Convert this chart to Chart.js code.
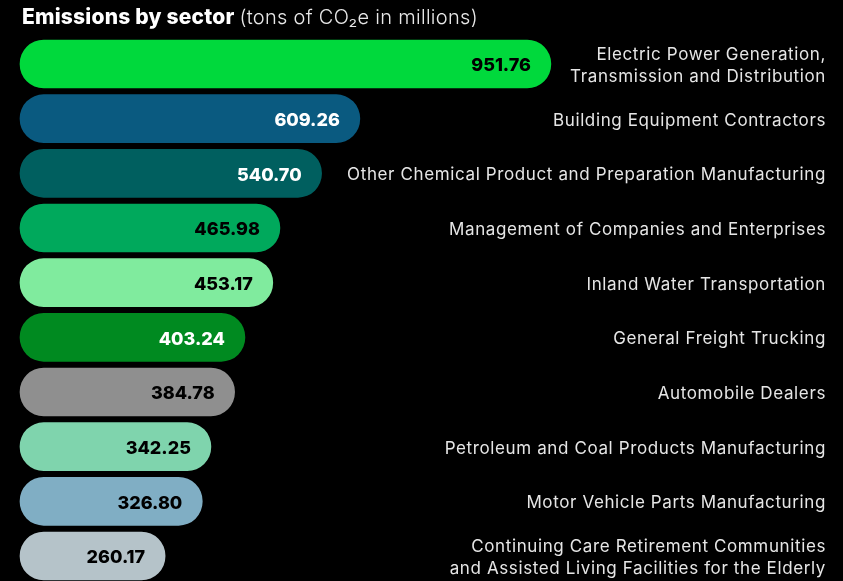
<!DOCTYPE html>
<html>
<head>
<meta charset="utf-8">
<script src="https://cdn.jsdelivr.net/npm/chart.js@4.4.1/dist/chart.umd.min.js"></script>
<style>
  html, body { margin: 0; padding: 0; background: #000; }
  #wrap { width: 843px; height: 581px; }
</style>
</head>
<body>
<div id="wrap"><canvas id="emissions"></canvas></div>
<script>
// sectors, top to bottom
const sectors = [
  ['Electric Power Generation,', 'Transmission and Distribution'],
  'Building Equipment Contractors',
  'Other Chemical Product and Preparation Manufacturing',
  'Management of Companies and Enterprises',
  'Inland Water Transportation',
  'General Freight Trucking',
  'Automobile Dealers',
  'Petroleum and Coal Products Manufacturing',
  'Motor Vehicle Parts Manufacturing',
  ['Continuing Care Retirement Communities', 'and Assisted Living Facilities for the Elderly']
];
// tons of CO2e, millions
const emissions = [951.76, 609.26, 540.70, 465.98, 453.17, 403.24, 384.78, 342.25, 326.80, 260.17];
const barColors = ['#00d93c', '#0a5a80', '#005f5f', '#00a95c', '#80eb9e', '#008a20', '#8f8f8f', '#7fd4ad', '#80aec4', '#b5c3c9'];
const valueColors = ['#000', '#fff', '#fff', '#000', '#000', '#fff', '#000', '#000', '#000', '#000'];

const FONT = 'Inter, "Noto Sans", sans-serif';

// heading, bar values and sector names are painted by hand
const annotate = {
  id: 'annotate',
  afterDatasetsDraw(chart) {
    const ctx = chart.ctx;
    const meta = chart.getDatasetMeta(0);
    const yScale = chart.scales.y;
    ctx.save();

    // heading
    ctx.textBaseline = 'middle';
    ctx.textAlign = 'left';
    ctx.fillStyle = '#ffffff';
    ctx.font = '800 21px ' + FONT;
    ctx.letterSpacing = '0.2px';
    ctx.fillText('Emissions by sector', 22, 18);
    const w = ctx.measureText('Emissions by sector').width;
    ctx.font = '300 20px ' + FONT;
    ctx.letterSpacing = '0.3px';
    ctx.fillStyle = '#e8e8e8';
    ctx.fillText('(tons of CO\u2082e in millions)', 22 + w + 5, 18);

    // values inside bars
    ctx.font = '800 18px ' + FONT;
    ctx.letterSpacing = '0px';
    ctx.textAlign = 'right';
    meta.data.forEach((bar, i) => {
      ctx.fillStyle = valueColors[i];
      ctx.fillText(emissions[i].toFixed(2), bar.x - 20, bar.y + 2);
    });

    // sector names along the right edge
    ctx.font = '400 17px ' + FONT;
    ctx.letterSpacing = '0.62px';
    ctx.fillStyle = '#e6e6e6';
    const right = chart.chartArea.right;
    sectors.forEach((name, i) => {
      const y = yScale.getPixelForValue(i) + 2;
      const lines = Array.isArray(name) ? name : [name];
      lines.forEach((line, j) => {
        const dy = (j - (lines.length - 1) / 2) * 22;
        ctx.fillText(line, right, y + dy);
      });
    });
    ctx.restore();
  }
};

new Chart(document.getElementById('emissions'), {
  type: 'bar',
  data: {
    labels: sectors,
    datasets: [{
      data: emissions,
      backgroundColor: barColors,
      borderWidth: 0,
      borderRadius: 24,
      borderSkipped: false,
      barThickness: 48,
      clip: false
    }]
  },
  options: {
    indexAxis: 'y',
    responsive: true,
    maintainAspectRatio: false,
    animation: false,
    layout: { padding: { left: 20, right: 17, top: 64, bottom: 25 } },
    scales: {
      x: { min: 0, max: 1445, display: false },
      y: { offset: false, display: false }
    },
    plugins: {
      legend: { display: false },
      tooltip: { enabled: false }
    }
  },
  plugins: [annotate]
});
</script>
</body>
</html>
